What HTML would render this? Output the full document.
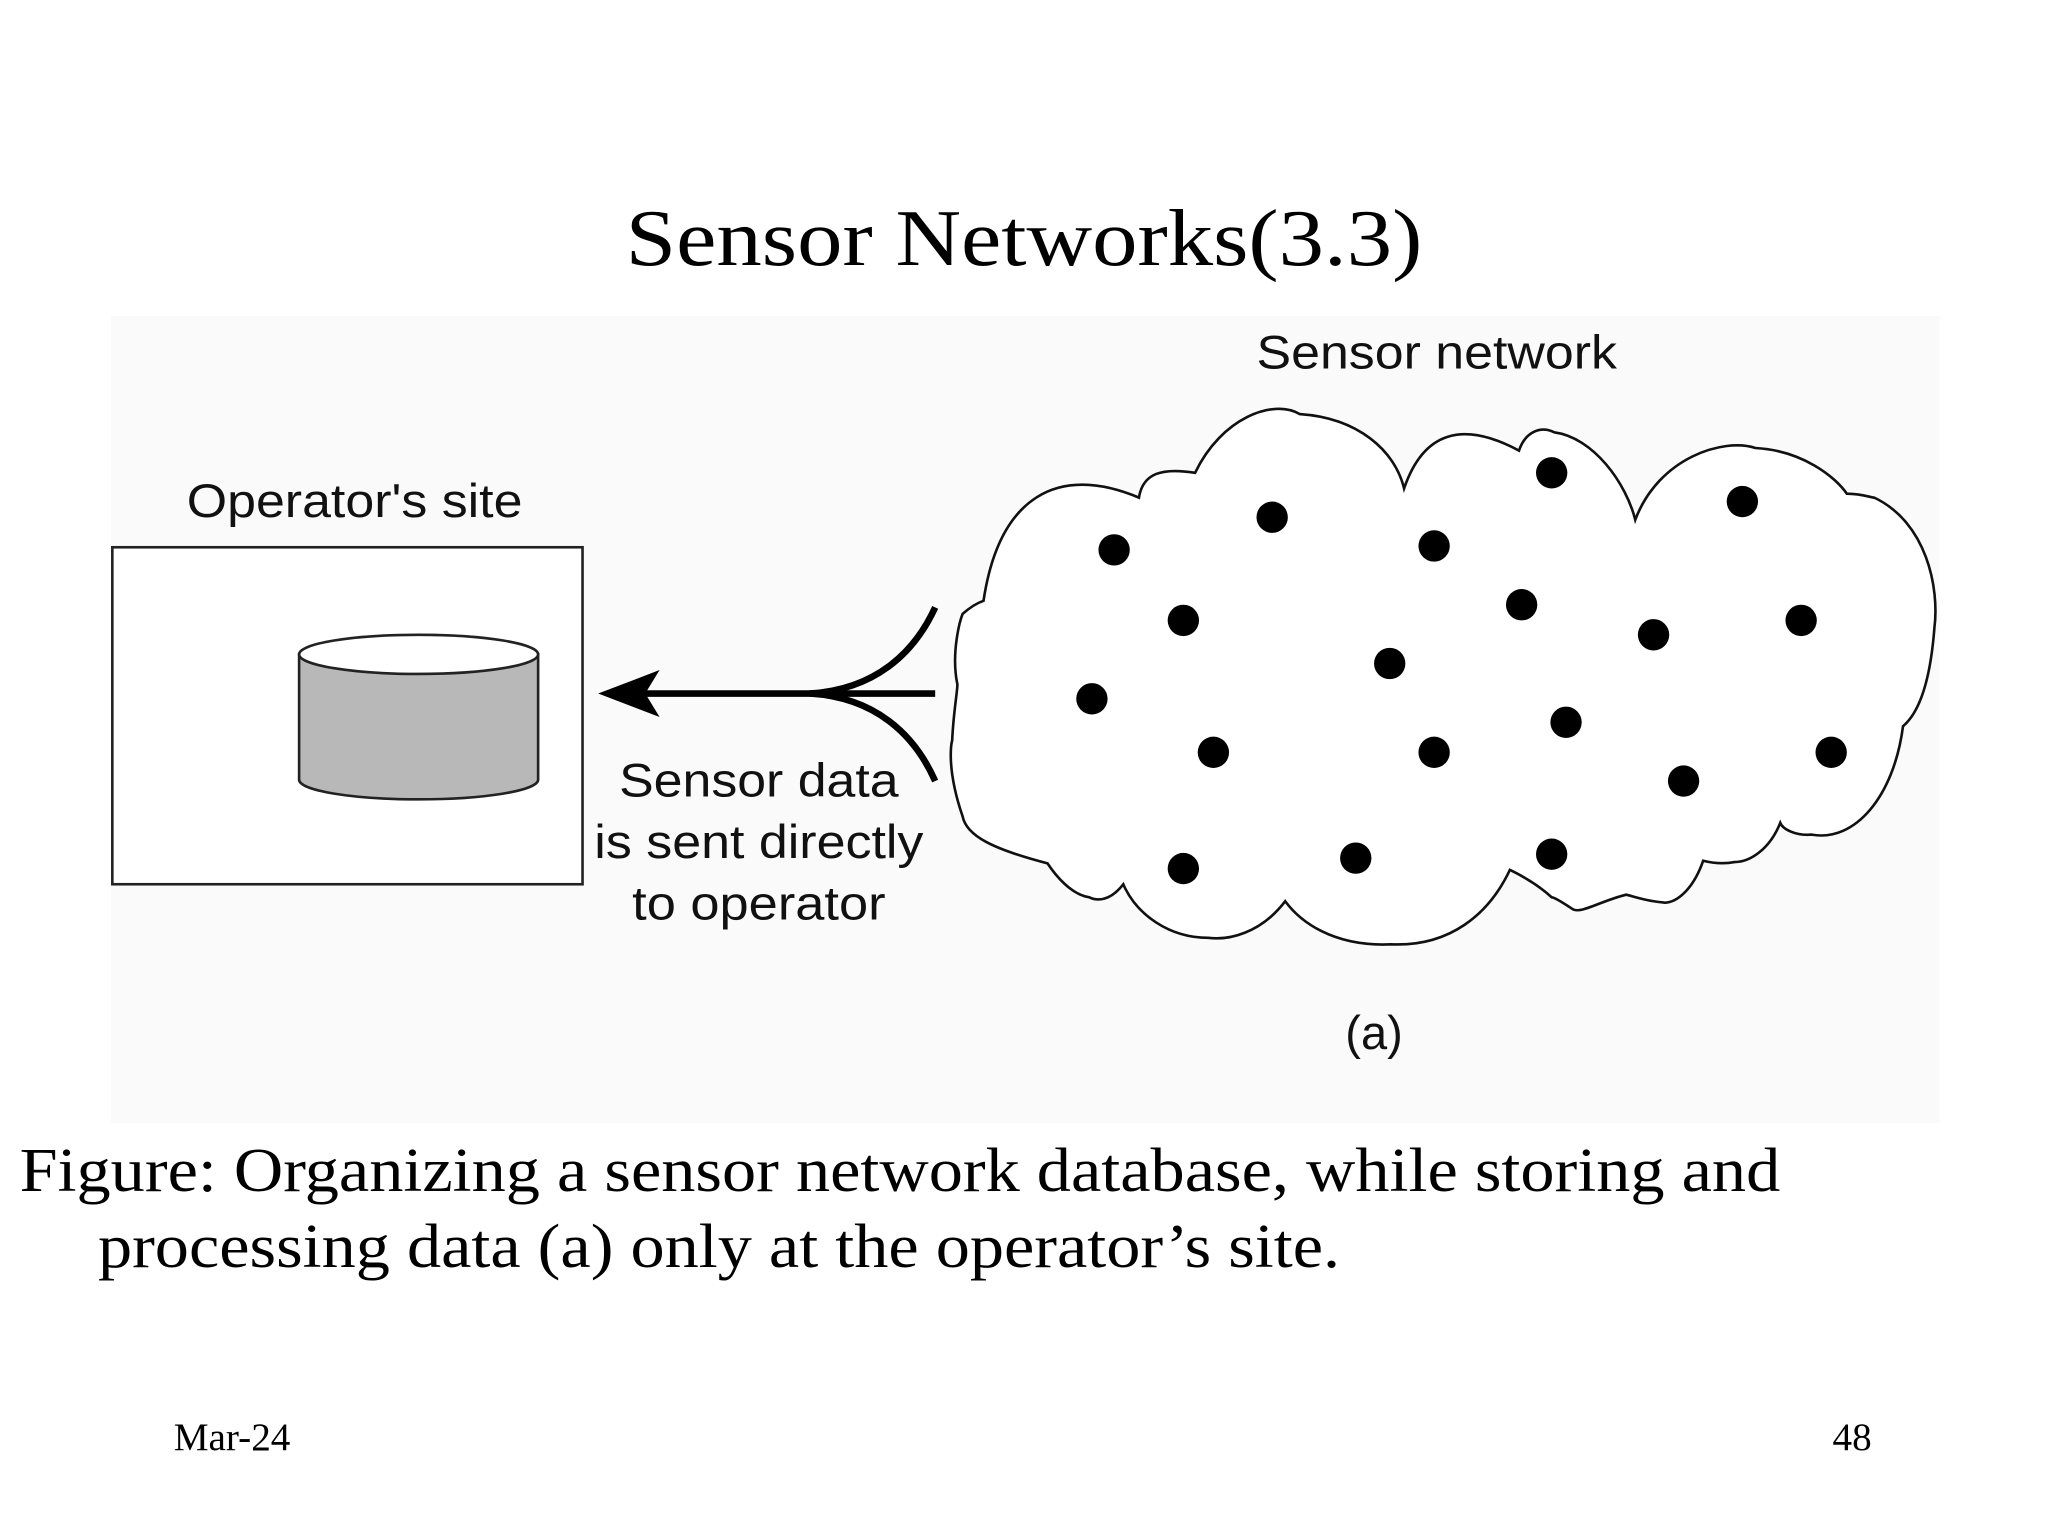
<!DOCTYPE html>
<html><head><meta charset="utf-8"><style>
html,body{margin:0;padding:0;background:#fff;}
svg{display:block;}
</style></head><body>
<svg width="2048" height="1536" viewBox="0 0 1568 1176" xmlns="http://www.w3.org/2000/svg">
<rect x="0" y="0" width="1568" height="1176" fill="#fff"/>
<rect x="85" y="242" width="1400" height="618" fill="#fafafa"/>
<text x="784" y="203" text-anchor="middle" font-family="Liberation Serif, serif" font-size="62" textLength="610" lengthAdjust="spacingAndGlyphs">Sensor Networks(3.3)</text>
<text x="962" y="282" font-family="Liberation Sans, sans-serif" font-size="36" textLength="276" lengthAdjust="spacingAndGlyphs" fill="#111">Sensor network</text>
<text x="143" y="396" font-family="Liberation Sans, sans-serif" font-size="36" textLength="257" lengthAdjust="spacingAndGlyphs" fill="#111">Operator's site</text>
<rect x="86" y="419" width="360" height="258" fill="#fff" stroke="#222" stroke-width="2"/>
<path d="M229,501 L229,597 A91.5,15 0 0 0 412,597 L412,501 Z" fill="#b8b8b8" stroke="#222" stroke-width="2"/>
<ellipse cx="320.5" cy="501" rx="91.5" ry="15" fill="#fff" stroke="#222" stroke-width="2"/>
<g stroke="#000" stroke-width="5" fill="none">
<line x1="480" y1="531" x2="716" y2="531"/>
<path d="M620,531 C670,528 700,500 716,465"/>
<path d="M620,531 C670,534 700,562 716,598"/>
</g>
<path d="M458,531 L505,513 L494,531 L505,549 Z" fill="#000"/>
<g font-family="Liberation Sans, sans-serif" font-size="36" fill="#111" text-anchor="middle">
<text x="581" y="610" textLength="214" lengthAdjust="spacingAndGlyphs">Sensor data</text>
<text x="581" y="657" textLength="252" lengthAdjust="spacingAndGlyphs">is sent directly</text>
<text x="581" y="704" textLength="194" lengthAdjust="spacingAndGlyphs">to operator</text>
<text x="1052" y="803">(a)</text>
</g>
<path d="M753,460 C765,380 810,355 872,381 C875,362 890,358 915,362 C935,320 975,305 995,317 C1040,320 1068,345 1075,374 C1090,330 1120,322 1163,345 C1168,330 1180,326 1190,331 C1220,335 1245,370 1252,398 C1270,350 1320,335 1344,343 C1380,345 1405,365 1414,378 C1425,378 1433,381 1435,381 C1475,400 1485,450 1481,481 C1478,520 1470,545 1457,556 C1450,610 1420,645 1387,639 C1375,640 1365,635 1363,630 C1355,650 1340,660 1328,660 C1318,662 1308,660 1304,659 C1295,685 1280,692 1274,691 C1260,690 1250,686 1245,685 C1225,690 1210,700 1204,696 C1195,690 1190,687 1188,687 C1175,675 1160,668 1156,666 C1140,700 1110,725 1065,723 C1020,725 995,705 984,690 C965,715 940,720 925,718 C895,718 870,700 860,677 C850,690 840,690 834,687 C820,685 808,670 802,661 C760,650 740,640 737,625 C725,590 728,570 729,567 C730,545 733,530 733,524 C728,500 735,475 737,470 C745,463 750,461 753,460 Z" fill="#fff" stroke="#111" stroke-width="2"/>
<g fill="#000">
<circle cx="853" cy="421" r="12"/><circle cx="974" cy="396" r="12"/><circle cx="1098" cy="418" r="12"/>
<circle cx="1188" cy="362" r="12"/><circle cx="1334" cy="384" r="12"/><circle cx="906" cy="475" r="12"/>
<circle cx="1165" cy="463" r="12"/><circle cx="1266" cy="486" r="12"/><circle cx="1379" cy="475" r="12"/>
<circle cx="1064" cy="508" r="12"/><circle cx="836" cy="535" r="12"/><circle cx="1199" cy="553" r="12"/>
<circle cx="929" cy="576" r="12"/><circle cx="1098" cy="576" r="12"/><circle cx="1402" cy="576" r="12"/>
<circle cx="1289" cy="598" r="12"/><circle cx="906" cy="665" r="12"/><circle cx="1038" cy="657" r="12"/>
<circle cx="1188" cy="654" r="12"/>
</g>
<g font-family="Liberation Serif, serif" font-size="48" fill="#000">
<text x="15" y="912" textLength="1348" lengthAdjust="spacingAndGlyphs">Figure: Organizing a sensor network database, while storing and</text>
<text x="75" y="970" textLength="951" lengthAdjust="spacingAndGlyphs">processing data (a) only at the operator’s site.</text>
</g>
<g font-family="Liberation Serif, serif" font-size="30" fill="#000">
<text x="133" y="1110">Mar-24</text>
<text x="1433" y="1110" text-anchor="end">48</text>
</g>
</svg>
</body></html>
